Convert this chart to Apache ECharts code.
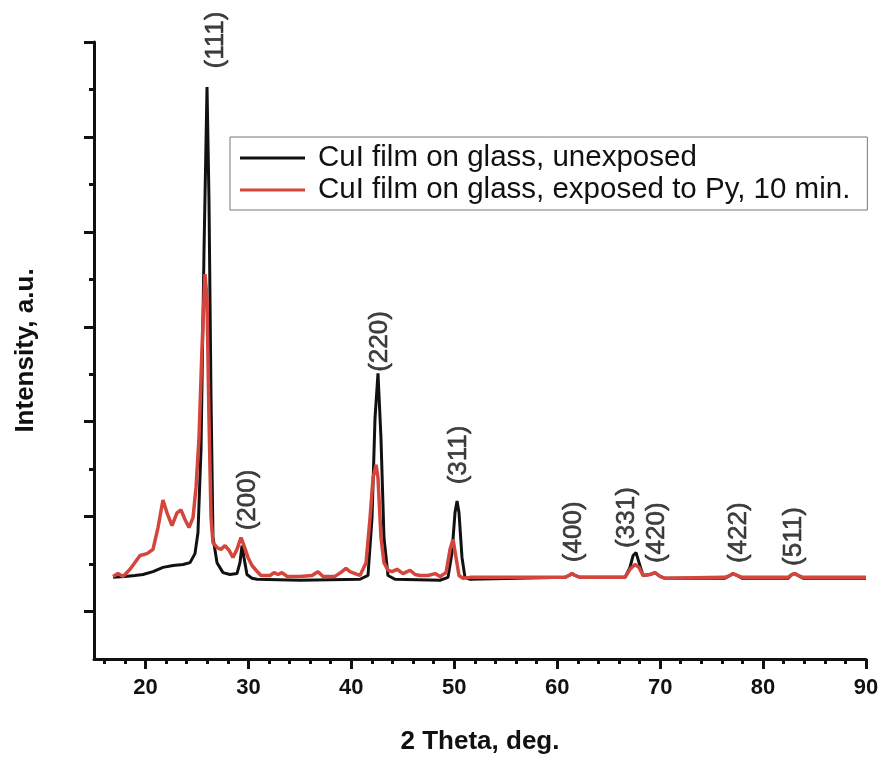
<!DOCTYPE html>
<html>
<head>
<meta charset="utf-8">
<title>CuI XRD</title>
<script src="https://cdn.jsdelivr.net/npm/echarts@6/dist/echarts.min.js"></script>
<style>
  html, body { margin: 0; padding: 0; background: #fff; }
  #chart { width: 882px; height: 760px; }
</style>
</head>
<body>
<div id="chart"></div>
<script>
// series names
const seriesNames = ['CuI film on glass, unexposed', 'CuI film on glass, exposed to Py, 10 min.']

// unexposed film (black)
const blackTheta = [16.85, 18.01, 18.98, 19.76, 20.73, 21.70, 22.68, 23.65, 24.33, 24.81, 25.10, 25.40, 25.69, 25.98, 26.17, 26.37, 26.56, 26.95, 27.53, 28.21, 28.89, 29.18, 29.38, 29.57, 29.86, 30.35, 30.84, 35.01, 40.84, 41.62, 42.01, 42.30, 42.59, 42.88, 43.17, 43.56, 44.24, 48.61, 49.39, 49.78, 50.07, 50.27, 50.46, 50.75, 51.04, 51.53, 60.76, 61.15, 61.44, 61.73, 62.22, 66.59, 67.07, 67.37, 67.66, 67.95, 68.34, 69.02, 69.50, 69.99, 70.48, 76.30, 76.79, 77.08, 77.47, 77.96, 82.42, 82.81, 83.10, 83.40, 83.88, 90.00]
const blackIntensity = [1.72, 1.74, 1.76, 1.78, 1.84, 1.93, 1.97, 1.99, 2.03, 2.22, 2.66, 4.44, 8.64, 12.05, 9.69, 5.49, 2.56, 2.03, 1.82, 1.78, 1.80, 2.03, 2.39, 2.14, 1.78, 1.70, 1.68, 1.66, 1.68, 1.76, 2.98, 5.07, 6.02, 4.65, 2.56, 1.76, 1.68, 1.66, 1.72, 2.24, 3.08, 3.33, 3.08, 2.14, 1.72, 1.68, 1.72, 1.76, 1.80, 1.76, 1.72, 1.72, 1.93, 2.18, 2.24, 2.03, 1.76, 1.78, 1.82, 1.74, 1.70, 1.70, 1.76, 1.80, 1.76, 1.70, 1.70, 1.78, 1.80, 1.76, 1.70, 1.70]

// exposed to pyridine (red)
const redTheta = [16.85, 17.33, 17.82, 18.50, 19.47, 20.15, 20.73, 21.22, 21.70, 22.09, 22.58, 23.06, 23.45, 23.84, 24.23, 24.62, 24.91, 25.20, 25.49, 25.78, 25.98, 26.17, 26.37, 26.56, 26.95, 27.34, 27.73, 28.12, 28.50, 28.89, 29.28, 29.57, 29.96, 30.35, 30.74, 31.22, 32.10, 32.49, 32.88, 33.27, 33.75, 35.01, 36.18, 36.76, 37.25, 38.41, 39.09, 39.48, 39.87, 40.36, 40.84, 41.43, 41.82, 42.11, 42.40, 42.59, 42.88, 43.17, 43.56, 43.95, 44.44, 45.02, 45.70, 46.19, 46.67, 47.45, 48.13, 48.62, 49.20, 49.59, 49.88, 50.17, 50.46, 50.85, 51.53, 60.76, 61.15, 61.44, 61.73, 62.22, 66.59, 67.07, 67.56, 67.95, 68.34, 69.02, 69.50, 69.99, 70.48, 76.30, 76.79, 77.08, 77.47, 77.96, 82.42, 82.81, 83.10, 83.40, 83.88, 90.00]
const redIntensity = [1.74, 1.80, 1.74, 1.89, 2.18, 2.22, 2.31, 2.77, 3.35, 3.08, 2.81, 3.08, 3.14, 2.94, 2.77, 2.98, 3.61, 4.65, 6.54, 8.11, 7.59, 5.07, 2.98, 2.45, 2.35, 2.31, 2.39, 2.29, 2.14, 2.31, 2.56, 2.39, 2.14, 1.97, 1.87, 1.76, 1.76, 1.82, 1.78, 1.82, 1.74, 1.74, 1.76, 1.84, 1.74, 1.74, 1.84, 1.91, 1.84, 1.80, 1.76, 2.03, 2.98, 3.82, 4.09, 3.82, 2.56, 2.03, 1.87, 1.84, 1.89, 1.80, 1.87, 1.78, 1.76, 1.76, 1.80, 1.74, 1.82, 2.31, 2.52, 2.14, 1.76, 1.70, 1.72, 1.72, 1.76, 1.80, 1.76, 1.72, 1.72, 1.89, 1.99, 1.93, 1.76, 1.78, 1.82, 1.74, 1.70, 1.72, 1.76, 1.80, 1.76, 1.72, 1.72, 1.78, 1.80, 1.76, 1.72, 1.72]

// reflection labels (centre of each rotated label, in data units)
const hklLabels = ['(111)', '(200)', '(220)', '(311)', '(400)', '(331)', '(420)', '(422)', '(511)']
const hklTheta = [26.85, 29.96, 42.79, 50.46, 61.63, 66.78, 69.70, 77.66, 83.01]
const hklHeight = [13.04, 3.35, 6.69, 4.30, 2.68, 2.98, 2.66, 2.66, 2.58]

// axis ticks
const xMajorTicks = [20, 30, 40, 50, 60, 70, 80, 90]
const xMinorTicks = [16, 18, 22, 24, 26, 28, 32, 34, 36, 38, 42, 44, 46, 48, 52, 54, 56, 58, 62, 64, 66, 68, 72, 74, 76, 78, 82, 84, 86, 88]
const yMajorTicks = [1, 3, 5, 7, 9, 11, 13]
const yMinorTicks = [2, 4, 6, 8, 10, 12]

const zip = (xs, ys) => xs.map((x, i) => [x, ys[i]])

const chart = echarts.init(document.getElementById('chart'))

const font = '"Liberation Sans", Arial, sans-serif'
const red = '#d4453c'
const black = '#111111'

const option = {
  animation: false,
  grid: { left: 94, right: 16, top: 42, bottom: 98 },
  legend: {
    data: seriesNames,
    orient: 'vertical',
    left: 230,
    top: 137,
    padding: [5, 17, 4, 10],
    itemGap: 0,
    icon: 'rect',
    itemWidth: 65,
    itemHeight: 3,
    borderColor: '#777',
    borderWidth: 1,
    textStyle: { fontFamily: font, fontSize: 29.5, color: '#111', lineHeight: 32, padding: [0, 0, 0, 8] },
  },
  xAxis: [
    {
      type: 'value',
      min: 15,
      max: 90,
      name: '2 Theta, deg.',
      nameLocation: 'middle',
      nameGap: 70,
      nameTextStyle: { fontFamily: font, fontSize: 26, fontWeight: 'bold', color: '#111' },
      axisLine: { lineStyle: { color: '#111', width: 3 } },
      axisTick: { customValues: xMajorTicks, length: 10, lineStyle: { width: 3, color: '#111' } },
      axisLabel: {
        customValues: xMajorTicks,
        margin: 18,
        fontFamily: font,
        fontSize: 22,
        fontWeight: 'bold',
        color: '#111',
      },
      splitLine: { show: false },
    },
    {
      // minor ticks
      type: 'value',
      position: 'bottom',
      min: 15,
      max: 90,
      axisLine: { show: false },
      axisTick: { customValues: xMinorTicks, length: 5, lineStyle: { width: 3, color: '#111' } },
      axisLabel: { show: false },
      splitLine: { show: false },
    },
  ],
  yAxis: [
    {
      type: 'value',
      min: 0,
      max: 13,
      name: 'Intensity, a.u.',
      nameLocation: 'middle',
      nameGap: 55,
      nameTextStyle: { fontFamily: font, fontSize: 26, fontWeight: 'bold', color: '#111' },
      axisLine: { show: true, lineStyle: { color: '#111', width: 3 } },
      axisTick: { show: true, customValues: yMajorTicks, length: 10, lineStyle: { width: 3, color: '#111' } },
      axisLabel: { show: false },
      splitLine: { show: false },
    },
    {
      // minor ticks
      type: 'value',
      position: 'left',
      min: 0,
      max: 13,
      axisLine: { show: false },
      axisTick: { show: true, customValues: yMinorTicks, length: 5, lineStyle: { width: 3, color: '#111' } },
      axisLabel: { show: false },
      splitLine: { show: false },
    },
  ],
  series: [
    {
      name: seriesNames[0],
      type: 'line',
      symbol: 'none',
      data: zip(blackTheta, blackIntensity),
      lineStyle: { color: black, width: 3 },
      itemStyle: { color: black },
    },
    {
      name: seriesNames[1],
      type: 'line',
      symbol: 'none',
      data: zip(redTheta, redIntensity),
      lineStyle: { color: red, width: 3.5 },
      itemStyle: { color: red },
    },
    {
      // hkl labels
      type: 'scatter',
      symbolSize: 0,
      silent: true,
      clip: false,
      itemStyle: { color: 'transparent' },
      data: hklLabels.map((name, i) => ({ name: name, value: [hklTheta[i], hklHeight[i]] })),
      label: {
        show: true,
        position: 'inside',
        rotate: 90,
        formatter: (p) => p.name,
        fontFamily: font,
        fontSize: 26,
        color: '#111',
        textBorderColor: '#111',
        textBorderWidth: 0.6,
      },
    },
  ],
}

chart.setOption(option)
</script>
</body>
</html>
